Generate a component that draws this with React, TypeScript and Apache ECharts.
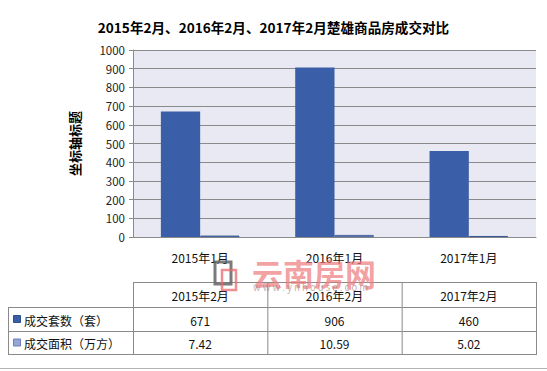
import React, { useEffect, useRef } from "react";
import * as echarts from "echarts";

const titleText = "2015年2月、2016年2月、2017年2月楚雄商品房成交对比";
const yAxisTitle = "坐标轴标题";
const categories = ["2015年1月", "2016年1月", "2017年1月"];
const tableHeaders = ["2015年2月", "2016年2月", "2017年2月"];
const seriesNames = ["成交套数（套）", "成交面积（万方）"];
const dealCount = [671, 906, 460];
const dealArea = [7.42, 10.59, 5.02];
const yTicks = { min: 0, max: 1000, interval: 100 };

const C1 = "#3a5ea8";
const C2 = "#95a5d6";
const LINE = "#8a8a8a";
const FONT = "'Noto Sans CJK SC', 'Noto Sans', sans-serif";

export default function App() {
  const ref = useRef<HTMLDivElement>(null);
  useEffect(() => {
    const chart = echarts.init(ref.current!, null, { renderer: "svg" });

    const gx = 133, gw = 403, colW = gw / 3;
    const rowTop = 282, rowH1 = 307, rowH2 = 331, rowEnd = 354;
    const graphics: any[] = [];
    const hl = (x1: number, y: number, x2: number, color = LINE) =>
      graphics.push({ type: "line", shape: { x1, y1: y + 0.5, x2, y2: y + 0.5 }, style: { stroke: color, lineWidth: 1 }, silent: true });
    const vl = (x: number, y1: number, y2: number) =>
      graphics.push({ type: "line", shape: { x1: x + 0.5, y1, x2: x + 0.5, y2 }, style: { stroke: LINE, lineWidth: 1 }, silent: true });

    // table lines
    hl(gx, rowTop, gx + gw);
    hl(8, rowH1, gx + gw);
    hl(8, rowH2, gx + gw);
    hl(8, rowEnd, gx + gw);
    vl(8, rowH1, rowEnd + 1);
    vl(gx, rowTop, rowEnd + 1);
    vl(gx + colW, rowTop, rowEnd + 1);
    vl(gx + 2 * colW, rowTop, rowEnd + 1);
    vl(gx + gw, rowTop, rowEnd + 1);
    hl(0, 368, 547, "#b4b4b4");

    const cell = (text: string, x: number, y: number, align = "center") =>
      graphics.push({
        type: "text",
        x, y,
        style: { text, fill: "#111", font: `12px ${FONT}`, textAlign: align, textVerticalAlign: "middle" },
        silent: true,
      });

    tableHeaders.forEach((h, i) => cell(h, gx + colW * (i + 0.5), (rowTop + rowH1) / 2 + 1));
    dealCount.forEach((v, i) => cell(String(v), gx + colW * (i + 0.5), (rowH1 + rowH2) / 2 + 1));
    dealArea.forEach((v, i) => cell(v.toFixed(2), gx + colW * (i + 0.5), (rowH2 + rowEnd) / 2 + 1));

    // legend keys in table
    [C1, C2].forEach((c, i) => {
      const cy = i === 0 ? (rowH1 + rowH2) / 2 : (rowH2 + rowEnd) / 2;
      graphics.push({ type: "rect", shape: { x: 13.5, y: cy - 3.5, width: 7, height: 7 }, style: { fill: c, stroke: i === 0 ? "#2f4f8f" : "#6c7fb8", lineWidth: 1 }, silent: true });
      cell(seriesNames[i], 24, cy + 1, "left");
    });

    // watermark
    graphics.push({ type: "rect", shape: { x: 215, y: 262, width: 16, height: 22 }, style: { fill: "none", stroke: "rgba(100,100,100,0.85)", lineWidth: 3 }, silent: true, z: 10 });
    graphics.push({ type: "rect", shape: { x: 222, y: 270, width: 14, height: 20 }, style: { fill: "none", stroke: "rgba(232,104,110,0.75)", lineWidth: 2.5 }, silent: true, z: 10 });
    graphics.push({ type: "text", x: 252, y: 272, style: { text: "云南房网", fill: "rgba(238,120,124,0.7)", font: `bold 31px ${FONT}`, textVerticalAlign: "middle" }, silent: true, z: 10 });
    graphics.push({ type: "text", x: 253, y: 287, style: { text: "w w w . y n h o u s e . c o m", fill: "rgba(150,120,120,0.6)", font: `9.5px ${FONT}`, textVerticalAlign: "middle" }, silent: true, z: 10 });

    chart.setOption({
      animation: false,
      backgroundColor: "#fff",
      title: {
        text: titleText,
        left: "center",
        top: 15,
        textStyle: { fontSize: 13.6, fontWeight: "bold", color: "#000", fontFamily: FONT },
      },
      grid: {
        left: gx, top: 50, width: gw, height: 187,
        show: true, backgroundColor: "#e9e9f3", borderWidth: 0,
      },
      xAxis: {
        type: "category",
        data: categories,
        axisLine: { lineStyle: { color: LINE } },
        axisTick: { show: false },
        axisLabel: { color: "#111", fontSize: 12, fontFamily: FONT, margin: 14 },
      },
      yAxis: {
        type: "value",
        min: yTicks.min, max: yTicks.max, interval: yTicks.interval,
        name: yAxisTitle,
        nameLocation: "middle",
        nameGap: 52,
        nameRotate: 90,
        nameTextStyle: { fontSize: 13, fontWeight: "bold", color: "#000", fontFamily: FONT },
        axisLine: { show: true, lineStyle: { color: LINE } },
        axisTick: { show: true, length: 4, lineStyle: { color: LINE } },
        axisLabel: { color: "#222", fontSize: 11.5, fontFamily: FONT, margin: 8, formatter: (v: number) => String(v) },
        splitLine: { lineStyle: { color: LINE, width: 1 } },
      },
      series: [
        {
          name: seriesNames[0], type: "bar", data: dealCount,
          barGap: "0%", barCategoryGap: "41.5%",
          itemStyle: { color: C1 },
        },
        {
          name: seriesNames[1], type: "bar", data: dealArea,
          barGap: "0%", barCategoryGap: "41.5%",
          itemStyle: { color: C2, borderColor: "#2f4f8f", borderWidth: 0.8 },
        },
      ],
      graphic: graphics,
    });
    return () => chart.dispose();
  }, []);
  return <div ref={ref} style={{ position: "fixed", left: 0, top: 0, width: 547, height: 371 }} />;
}
